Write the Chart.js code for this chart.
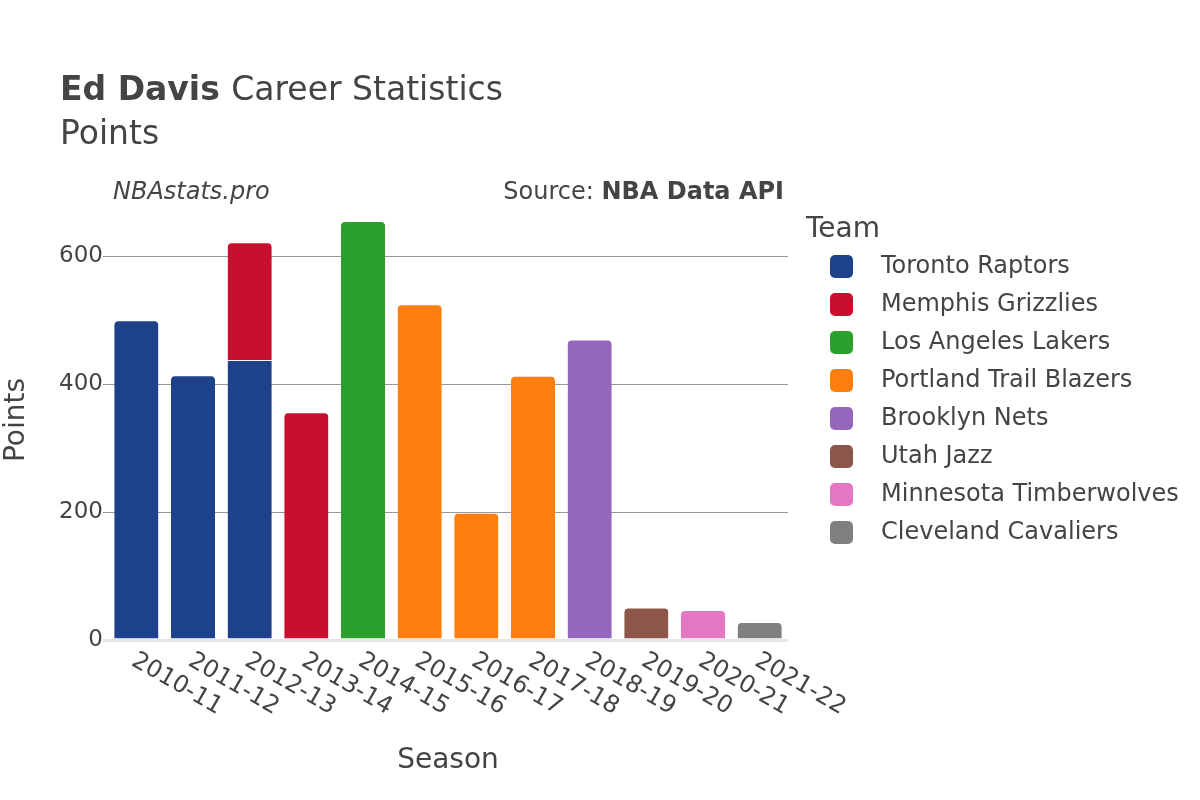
<!DOCTYPE html>
<html>
<head>
<meta charset="utf-8">
<script src="https://cdn.jsdelivr.net/npm/chart.js@4"></script>
<style>
	body { margin: 0; background: #fff; }
	#wrap { width: 1200px; height: 800px; }
</style>
</head>
<body>
<div id="wrap"><canvas id="cvs" width="1200" height="800"></canvas></div>
<script>
var seasons = ["2010-11", "2011-12", "2012-13", "2013-14", "2014-15", "2015-16", "2016-17", "2017-18", "2018-19", "2019-20", "2020-21", "2021-22"];
var teams = ["Toronto Raptors", "Memphis Grizzlies", "Los Angeles Lakers", "Portland Trail Blazers", "Brooklyn Nets", "Utah Jazz", "Minnesota Timberwolves", "Cleveland Cavaliers"];
var teamColors = ["#1d428a", "#c8102e", "#2ca02c", "#ff7f0e", "#9467bd", "#8c564b", "#e377c2", "#7f7f7f"];

var torontoPts   = [500, 414, 438, null, null, null, null, null, null, null, null, null];
var memphisPts   = [null, null, 184, 356, null, null, null, null, null, null, null, null];
var lakersPts    = [null, null, null, null, 655, null, null, null, null, null, null, null];
var portlandPts  = [null, null, null, null, null, 525, 199, 413, null, null, null, null];
var brooklynPts  = [null, null, null, null, null, null, null, null, 470, null, null, null];
var utahPts      = [null, null, null, null, null, null, null, null, null, 51, null, null];
var minnesotaPts = [null, null, null, null, null, null, null, null, null, null, 47, null];
var clevelandPts = [null, null, null, null, null, null, null, null, null, null, null, 28];

var teamPoints = [torontoPts, memphisPts, lakersPts, portlandPts, brooklynPts, utahPts, minnesotaPts, clevelandPts];

var FONT = "'DejaVu Sans', sans-serif";
var TXT = "#444";

// only the top segment of a stack gets round corners
function topRadius(ctx) {
	var i = ctx.dataIndex;
	for (var d = ctx.datasetIndex + 1; d < teamPoints.length; d++) {
		if (teamPoints[d][i]) return 0;
	}
	return { topLeft: 5, topRight: 5, bottomLeft: 0, bottomRight: 0 };
}

var datasets = teams.map(function(t, k) {
	return {
		label: t,
		data: teamPoints[k],
		backgroundColor: teamColors[k],
		borderColor: "rgba(255,255,255,0.6)",
		borderWidth: { top: 1, left: 0, right: 0, bottom: 0 },
		borderSkipped: "start",
		borderRadius: topRadius,
		barPercentage: 0.78,
		categoryPercentage: 1.0
	};
});

var textPlugin = {
	id: "texts",
	afterDraw: function(chart) {
		var c = chart.ctx;
		var area = chart.chartArea;
		var xs = chart.scales.x;
		c.save();
		c.fillStyle = TXT;
		c.textBaseline = "alphabetic";

		// title
		c.textAlign = "left";
		c.font = "bold 33px " + FONT;
		c.fillText("Ed Davis", 60, 100);
		var w = c.measureText("Ed Davis ").width;
		c.font = "33px " + FONT;
		c.fillText("Career Statistics", 60 + w, 100);
		c.fillText("Points", 60, 144);

		// annotations
		c.font = "italic 24px " + FONT;
		c.fillText("NBAstats.pro", 113, 199);
		c.textAlign = "right";
		c.font = "bold 24px " + FONT;
		c.fillText("NBA Data API", 784, 199);
		var w2 = c.measureText("NBA Data API").width;
		c.font = "24px " + FONT;
		c.fillText("Source: ", 784 - w2, 199);

		// x tick labels rotated
		c.textBaseline = "middle";
		c.font = "24px " + FONT;
		c.textAlign = "left";
		seasons.forEach(function(s, i) {
			var x = xs.getPixelForValue(i);
			c.save();
			c.translate(x - 3, area.bottom + 19);
			c.rotate(Math.PI / 6);
			c.fillText(s, 0, 0);
			c.restore();
		});

		// axis titles
		c.font = "28px " + FONT;
		c.textAlign = "center";
		c.fillText("Season", (area.left + area.right) / 2, 761);
		c.save();
		c.translate(17, (area.top + area.bottom) / 2);
		c.rotate(-Math.PI / 2);
		c.fillText("Points", 0, 0);
		c.restore();

		// legend
		c.textAlign = "left";
		c.textBaseline = "alphabetic";
		c.font = "28px " + FONT;
		c.fillText("Team", 806, 237);
		c.textBaseline = "middle";
		c.font = "24px " + FONT;
		teams.forEach(function(t, k) {
			var y = 266 + k * 38;
			c.fillStyle = teamColors[k];
			c.beginPath();
			c.roundRect(830, y - 11, 23, 23, 5);
			c.fill();
			c.fillStyle = TXT;
			c.fillText(t, 881, y + 1);
		});
		c.restore();
	}
};

new Chart(document.getElementById("cvs"), {
	type: "bar",
	data: { labels: seasons, datasets: datasets },
	options: {
		responsive: false,
		animation: false,
		devicePixelRatio: 1,
		layout: { padding: { top: 200, right: 412, bottom: 0, left: 0 } },
		plugins: {
			legend: { display: false },
			title: { display: false },
			tooltip: { enabled: false }
		},
		scales: {
			x: {
				stacked: true,
				grid: { display: false },
				border: { display: false },
				ticks: { display: false },
				afterFit: function(s) { s.height = 160; }
			},
			y: {
				stacked: true,
				min: 0,
				max: 688,
				border: { display: false },
				grid: {
					drawTicks: true,
					tickLength: 5,
					tickColor: function(ctx) { return ctx.tick && ctx.tick.value === 0 ? "#e6e6e6" : "#999"; },
					color: function(ctx) { return ctx.tick && ctx.tick.value === 0 ? "#e6e6e6" : "#999"; },
					lineWidth: function(ctx) { return ctx.tick && ctx.tick.value === 0 ? 3 : 1; }
				},
				ticks: {
					stepSize: 200,
					includeBounds: false,
					padding: 0,
					color: TXT,
					font: { family: FONT, size: 23 }
				},
				afterFit: function(s) { s.width = 108; }
			}
		}
	},
	plugins: [textPlugin]
});
</script>
</body>
</html>
